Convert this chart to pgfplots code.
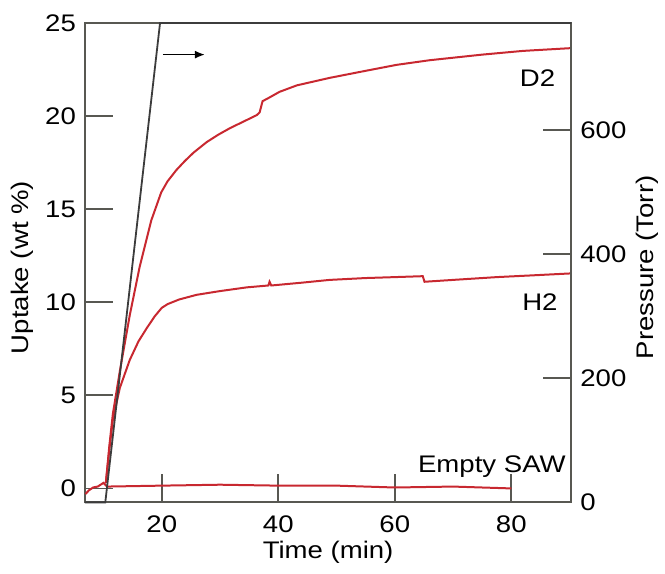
\documentclass[border=0pt]{standalone}
\usepackage{fontspec}
\setmainfont{Liberation Sans}[FakeStretch=1.15]
\usepackage{pgfplots}
\usepackage{pgfplotstable}
\pgfplotsset{compat=1.18}
\usetikzlibrary{arrows.meta}

\definecolor{axcol}{RGB}{88,88,82}
\definecolor{curve}{RGB}{200,40,48}
\definecolor{pres}{RGB}{60,60,60}

\pgfplotstableread{
x y
10.4 0.3
11.0 2.3
11.6 4.0
12.8 6.3
14.5 9.3
16.2 11.9
18.2 14.4
19.9 15.9
21.0 16.5
22.5 17.1
24.0 17.6
25.5 18.05
27.7 18.6
29.7 19.0
31.7 19.35
34.0 19.7
36.3 20.05
36.8 20.2
37.3 20.8
38.5 21.0
40.2 21.3
43.2 21.65
48.8 22.05
54.5 22.4
60.3 22.75
66.0 23.0
75.0 23.3
82.0 23.5
90.3 23.65
}\dtwo

\pgfplotstableread{
x y
10.4 0.3
11.0 2.1
11.6 3.7
12.8 5.4
14.5 6.9
16.0 7.9
17.4 8.6
18.8 9.25
20.0 9.7
21.0 9.9
23.0 10.15
26.0 10.4
30.0 10.6
34.6 10.8
38.3 10.9
38.5 11.1
38.8 10.9
44.0 11.05
48.8 11.2
55.0 11.3
60.0 11.35
64.8 11.4
65.1 11.1
70.0 11.2
77.5 11.35
84.0 11.45
90.3 11.55
}\htwo

\pgfplotstableread{
x y
6.9 -0.3
7.5 -0.1
8.2 0.05
9.0 0.1
10.0 0.3
10.3 0.2
10.6 0.1
20.0 0.15
30.0 0.2
40.0 0.15
50.0 0.15
60.0 0.05
70.0 0.1
80.0 0.0
}\emptysaw

\pgfplotstableread{
x p
6.8 0
10.3 0
19.7 772
90.3 772
}\pressuretab

\begin{document}
\begin{tikzpicture}[font=\fontsize{12}{14}\selectfont]
\path (-42.5pt,-35.5pt) rectangle (290pt,251.5pt);
\begin{axis}[
  scale only axis,
  width=243.5pt, height=240pt,
  xmin=6.8, xmax=90.3,
  ymin=-0.75, ymax=25,
  axis line style={axcol, line width=1pt},
  every tick/.style={axcol, line width=0.9pt},
  major tick length=14pt,
  /pgf/number format/assume math mode=true,
  xtick={20,40,60,80},
  ytick={0,5,10,15,20,25},
  tick pos=left,
  xticklabel style={yshift=-3pt},
  yticklabel style={xshift=-1pt},
  xlabel={Time (min)},
  ylabel={Uptake (wt \%)},
  xlabel style={at={(axis description cs:0.5,-0.104)}, anchor=center},
  ylabel style={at={(axis description cs:-0.129,0.49)}, anchor=center, rotate=0},
]
\addplot[curve, line width=1pt] table {\dtwo};
\addplot[curve, line width=1pt] table {\htwo};
\addplot[curve, line width=1pt] table {\emptysaw};
\node[anchor=east, inner sep=0pt] at (axis cs:87.6,22.05) {D2};
\node[anchor=east, inner sep=0pt] at (axis cs:88.0,9.98) {H2};
\node[anchor=east, inner sep=0pt] at (axis cs:89.4,1.18) {Empty SAW};
\draw[-{Latex[length=5pt,width=4pt]}, black, line width=0.8pt] (axis cs:20.2,23.3) -- (axis cs:27.4,23.3);
\end{axis}
\begin{axis}[
  scale only axis,
  width=243.5pt, height=240pt,
  xmin=6.8, xmax=90.3,
  ymin=0, ymax=772,
  axis line style={axcol, line width=1pt},
  every tick/.style={axcol, line width=0.9pt},
  major tick length=14pt,
  /pgf/number format/assume math mode=true,
  axis x line=none,
  axis y line*=right,
  ytick={0,200,400,600},
  yticklabel style={xshift=1pt},
  ylabel={Pressure (Torr)},
  ylabel style={at={(axis description cs:1.156,0.49)}, anchor=center, rotate=0},
  clip=false,
]
\addplot[pres, line width=0.9pt] table[x=x, y=p] {\pressuretab};
\end{axis}
\end{tikzpicture}
\end{document}
